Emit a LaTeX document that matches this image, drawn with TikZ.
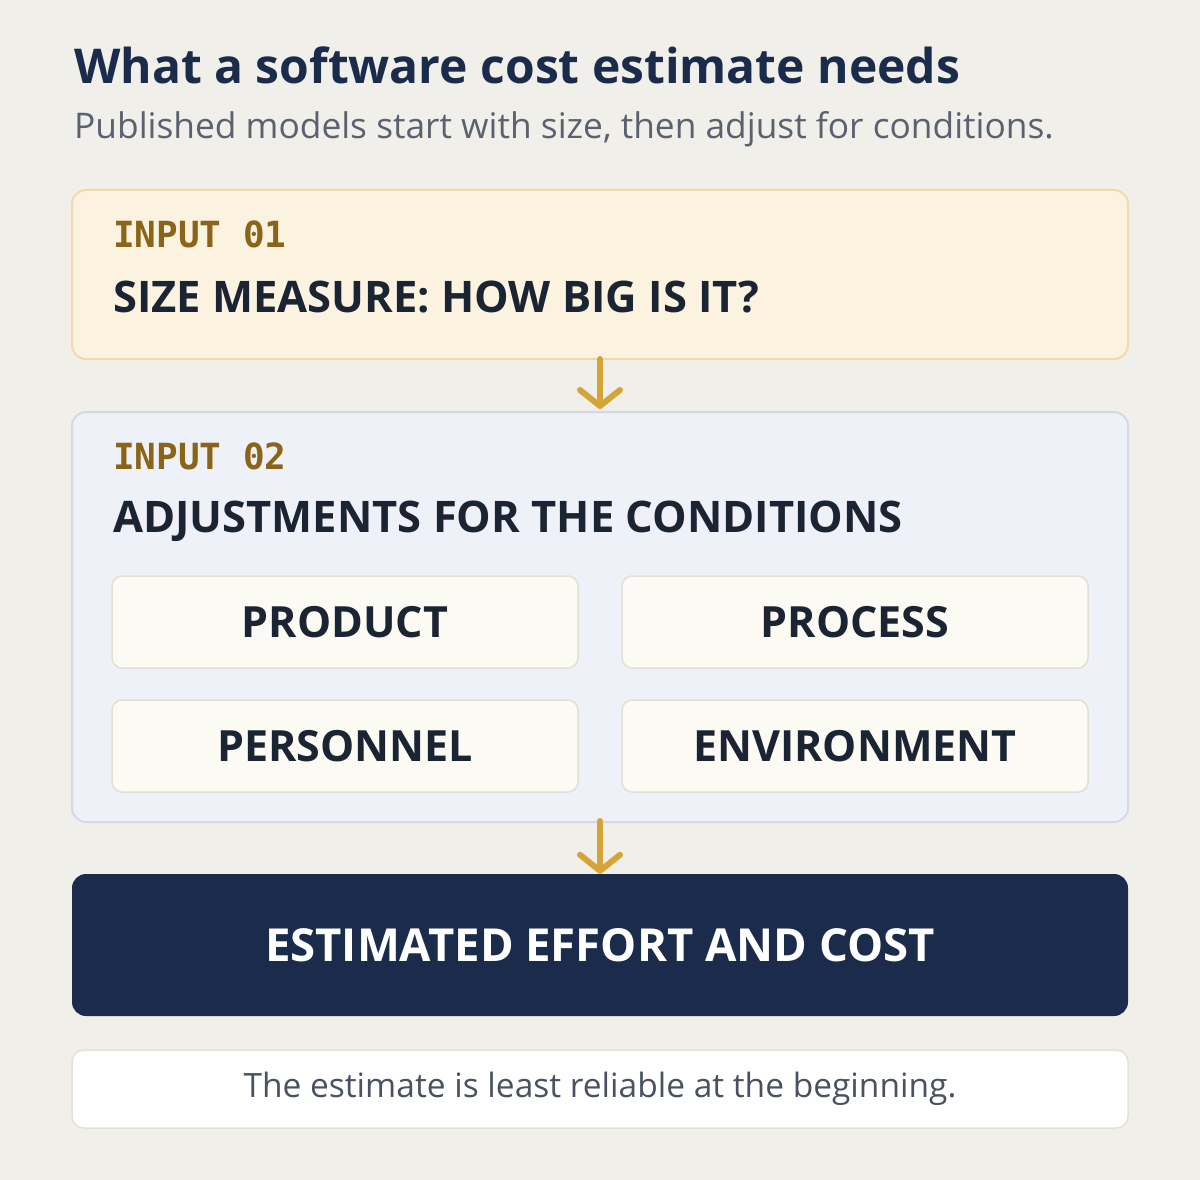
\documentclass[tikz,border=0pt]{standalone}
\usepackage{fontspec}
\setmainfont{Open Sans}
\newfontfamily\monofont{DejaVu Sans Mono}
\usetikzlibrary{arrows.meta}
\definecolor{bg}{HTML}{F0EFE9}
\definecolor{navy}{HTML}{1A2B4B}
\definecolor{subgray}{HTML}{5A6270}
\definecolor{notegray}{HTML}{4A5262}
\definecolor{inkdark}{HTML}{1B2433}
\definecolor{brown}{HTML}{8A6418}
\definecolor{gold}{HTML}{D4A437}
\definecolor{creamfill}{HTML}{FBF3E0}
\definecolor{creamline}{HTML}{EFDCAA}
\definecolor{bluefill}{HTML}{EEF1F7}
\definecolor{blueline}{HTML}{D5D9E2}
\definecolor{cellfill}{HTML}{FBFAF3}
\definecolor{cellline}{HTML}{E3DFD5}
\definecolor{noteline}{HTML}{E5E1D6}
\tikzset{
  panel/.style={rounded corners=14pt, line width=2pt},
  cell/.style={draw=cellline, fill=cellfill, rounded corners=10pt, line width=1.5pt,
    minimum width=466pt, minimum height=92pt, inner sep=0pt,
    font=\fontsize{43}{50}\selectfont\bfseries, text=inkdark},
  tag/.style={anchor=base west, inner sep=0pt, font=\monofont\fontsize{36}{42}\selectfont\bfseries, text=brown},
  head/.style={anchor=base west, inner sep=0pt, font=\fontsize{43.5}{50}\selectfont\bfseries, text=inkdark},
  flow/.style={draw=gold, line width=6pt, line cap=round,
    -{Straight Barb[length=16pt, width=40pt, line width=6pt, round]}},
}
\begin{document}
\begin{tikzpicture}[x=1pt, y=-1pt]
\useasboundingbox (0,0) rectangle (1200,1180);
\fill[bg] (0,0) rectangle (1200,1180);
% title
\node[anchor=base west, inner sep=0pt, text=navy, font=\fontsize{48}{56}\selectfont\bfseries] (title) at (74,84) {What a software cost estimate needs};
\node[anchor=base west, inner sep=0pt, text=subgray, font=\fontsize{35.3}{40}\selectfont] (subtitle) at (74,139) {Published models start with size, then adjust for conditions.};
% box 1
\draw[panel, draw=creamline, fill=creamfill] (72,190) rectangle (1128,359);
\node[tag] (t1) at (113,247) {INPUT 01};
\node[head] (h1) at (113,312) {SIZE MEASURE: HOW BIG IS IT?};
% box 2
\draw[panel, draw=blueline, fill=bluefill] (72,412) rectangle (1128,822);
\coordinate (b1bot) at (600,359);
\coordinate (b2top) at (600,409);
\coordinate (b2bot) at (600,821);
\node[tag] (t2) at (113,469) {INPUT 02};
\node[head] (h2) at (113,532) {ADJUSTMENTS FOR THE CONDITIONS};
\node[cell] (product) at (345,622) {PRODUCT};
\node[cell] (process) at (855,622) {PROCESS};
\node[cell] (personnel) at (345,746) {PERSONNEL};
\node[cell] (environment) at (855,746) {ENVIRONMENT};
% result
\node[fill=navy, rounded corners=14pt, minimum width=1056pt, minimum height=142pt, inner sep=0pt,
  text=white, font=\fontsize{45.5}{52}\selectfont\bfseries] (result) at (600,945) {ESTIMATED EFFORT AND COST};
% note
\node[draw=noteline, fill=white, rounded corners=12pt, line width=1.5pt, minimum width=1056pt, minimum height=78pt, inner sep=0pt,
  text=notegray, font=\fontsize{33.5}{38}\selectfont] (note) at (600,1089) {The estimate is least reliable at the beginning.};
% arrows
\draw[flow] (b1bot) -- (b2top);
\draw[flow] (b2bot) -- (result.north);
\end{tikzpicture}
\end{document}
